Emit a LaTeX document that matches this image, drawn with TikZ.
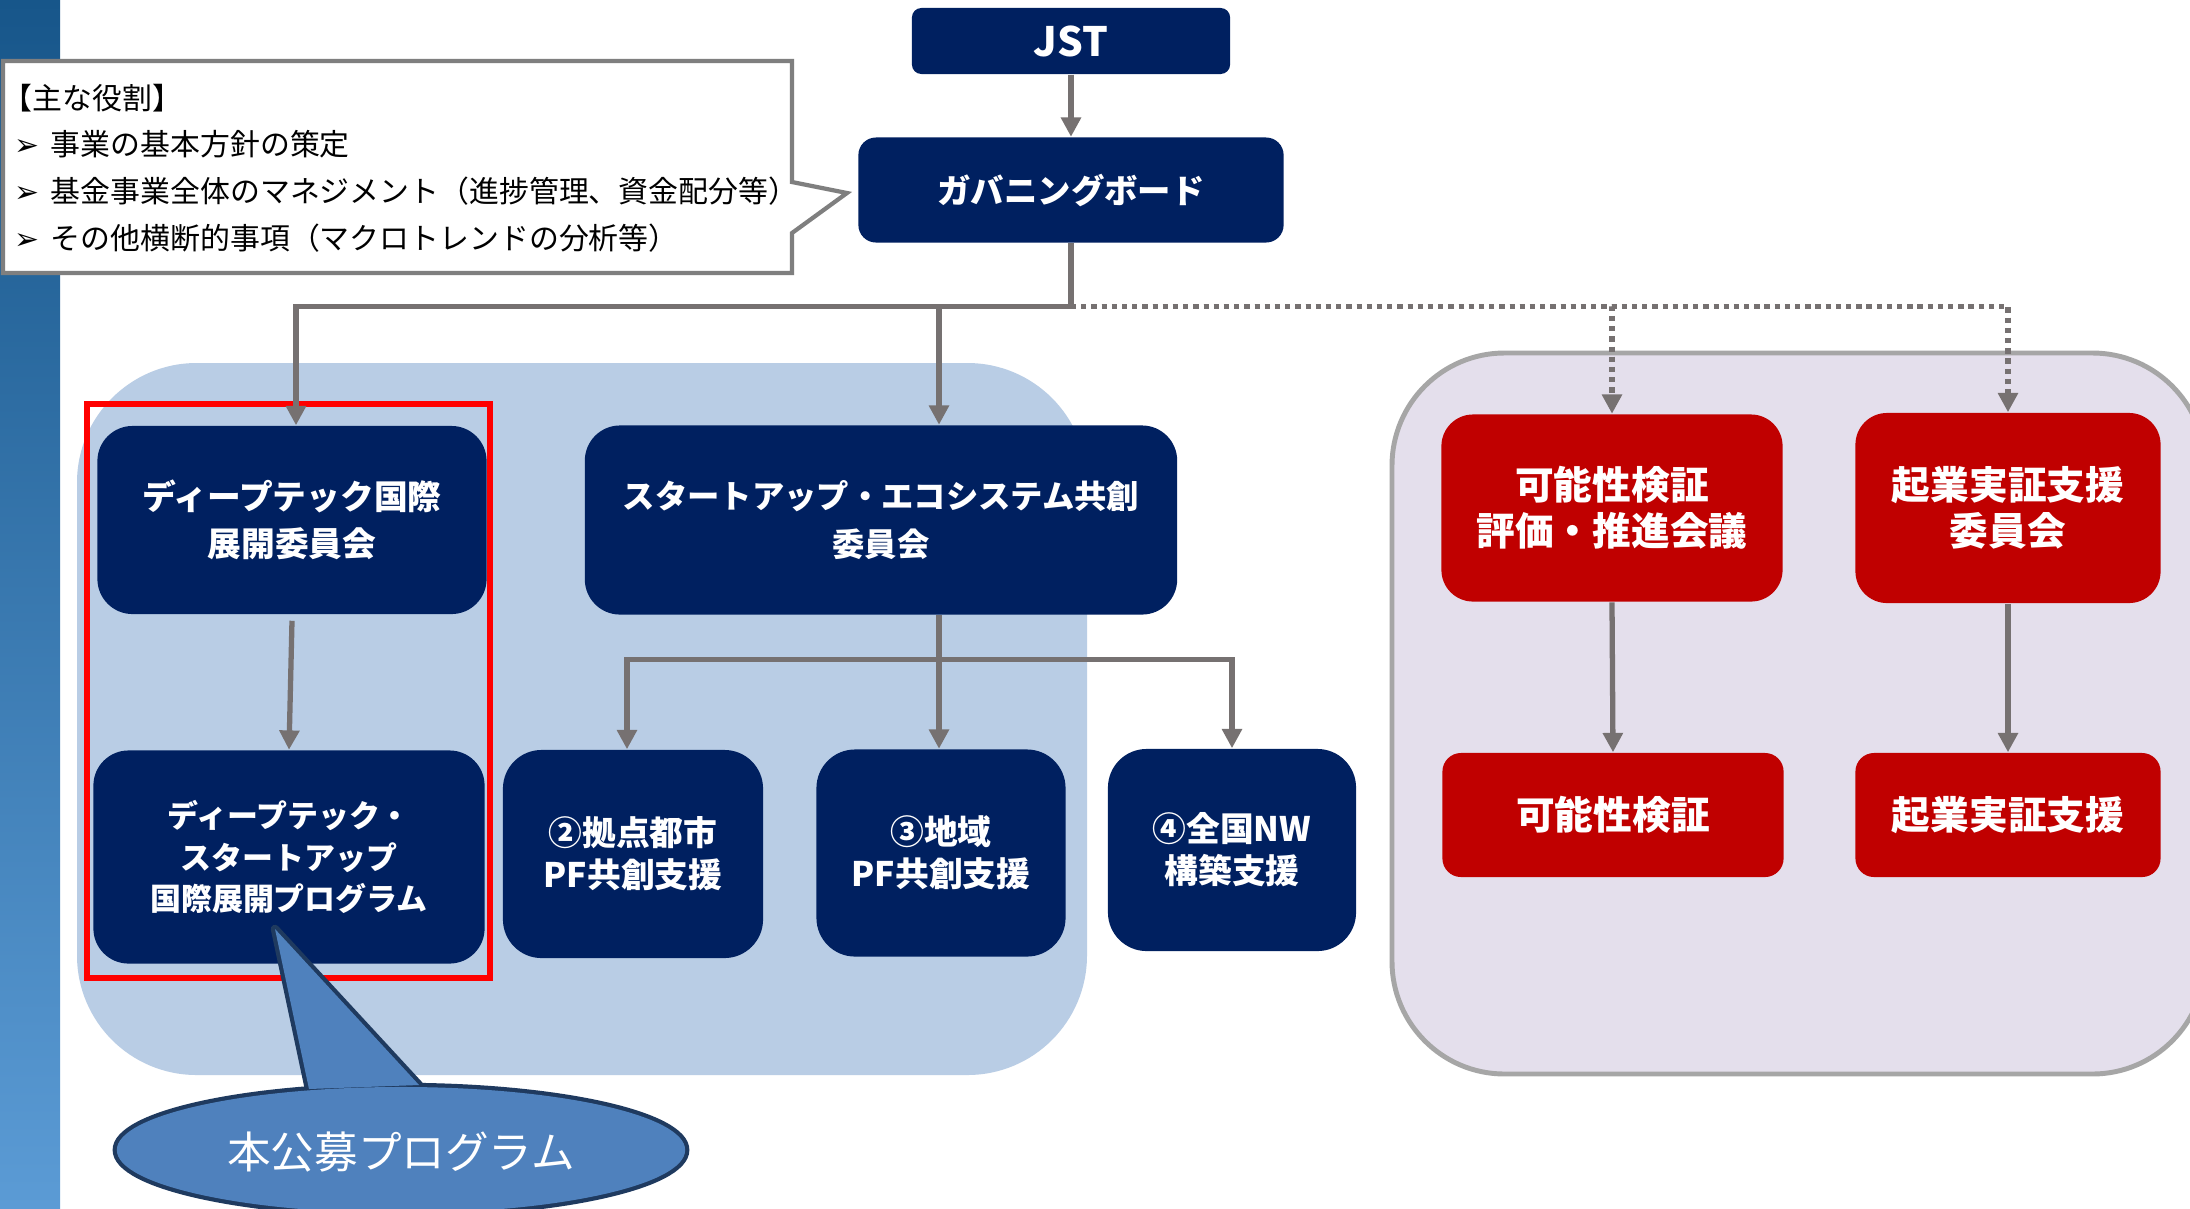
\documentclass[tikz,border=0pt]{standalone}
\usepackage{fontspec}
\setmainfont{Noto Sans CJK JP}
\newfontfamily\djv{DejaVu Sans}
\usetikzlibrary{shapes.geometric,arrows.meta,calc}

\definecolor{navy}{HTML}{002060}
\definecolor{rbox}{HTML}{C00000}
\definecolor{conn}{HTML}{767171}
\definecolor{lblue}{HTML}{B9CDE5}
\definecolor{lpurp}{HTML}{E4DFEC}
\definecolor{pbord}{HTML}{A6A6A6}
\definecolor{cbord}{HTML}{7F7F7F}
\definecolor{ellf}{HTML}{4F81BD}
\definecolor{elld}{HTML}{1F3A5F}
\definecolor{stripT}{HTML}{17568A}
\definecolor{stripB}{HTML}{5B9BD5}

\newcommand{\bul}{\makebox[10.3pt][l]{\djv\fontsize{8.5}{8.5}\selectfont ➢}}

\begin{document}
\begin{tikzpicture}[x=0.01cm,y=-0.01cm,
  navybox/.style={fill=navy, text=white, align=center, inner sep=0pt},
  redbox/.style={fill=rbox, text=white, align=center, inner sep=0pt},
  conline/.style={draw=conn, line width=1.5pt},
  arr/.style={conline, -{Triangle[length=5.5pt,width=5.5pt]}},
  dotline/.style={draw=conn, line width=1.5pt, dash pattern=on 1.5pt off 1.4pt},
  darr/.style={dotline, -{Triangle[length=5.5pt,width=5.5pt]}},
]
\clip (0,0) rectangle (2190,1208);
\fill[white] (0,0) rectangle (2190,1208);

% left strip
\shade[top color=stripT, bottom color=stripB] (0,0) rectangle (60,1208);

% group regions
\fill[lblue, rounded corners=34pt] (77,363) rectangle (1087,1075);
\filldraw[fill=lpurp, draw=pbord, line width=1.4pt, rounded corners=32pt] (1392,353) rectangle (2205,1074);

% callout for roles
\filldraw[fill=white, draw=cbord, line width=1.2pt, line join=miter]
  (3,61) -- (792,61) -- (792,182) -- (847,193) -- (792,233) -- (792,273) -- (3,273) -- cycle;
\node[anchor=west, align=left, inner sep=0pt, font=\fontsize{8.5}{13.3}\selectfont] (roles) at (14,168)
  {\hspace*{-0.4em}【主な役割】\\
   \bul 事業の基本方針の策定\\
   \bul 基金事業全体のマネジメント（進捗管理、資金配分等）\\
   \bul その他横断的事項（マクロトレンドの分析等）};

% top nodes
\node[navybox, rounded corners=2.7pt, minimum width=3.18cm, minimum height=0.66cm,
      font=\fontsize{11.5}{13}\selectfont\bfseries] (jst) at (1071,41) {JST};
\node[navybox, rounded corners=5pt, minimum width=4.25cm, minimum height=1.05cm,
      font=\fontsize{9.5}{12}\selectfont\bfseries] (gb) at (1071,190) {ガバニングボード};

% navy committees
\node[navybox, rounded corners=10pt, minimum width=3.89cm, minimum height=1.88cm,
      font=\fontsize{9.6}{13.5}\selectfont\bfseries] (dtc) at (292,520) {ディープテック国際\\展開委員会};
\node[navybox, rounded corners=10pt, minimum width=3.91cm, minimum height=2.13cm,
      font=\fontsize{8.8}{11.7}\selectfont\bfseries] (dtp) at (289,857) {ディープテック・\\スタートアップ\\国際展開プログラム};
\node[navybox, rounded corners=10pt, minimum width=5.92cm, minimum height=1.89cm,
      font=\fontsize{9.2}{13.5}\selectfont\bfseries] (suc) at (881,520) {スタートアップ・エコシステム共創\\委員会};
\node[navybox, rounded corners=11pt, minimum width=2.60cm, minimum height=2.08cm,
      font=\fontsize{9.6}{12}\selectfont\bfseries] (b2) at (633,854) {②拠点都市\\PF共創支援};
\node[navybox, rounded corners=11pt, minimum width=2.49cm, minimum height=2.07cm,
      font=\fontsize{9.6}{12}\selectfont\bfseries] (b3) at (941,853) {③地域\\PF共創支援};
\node[navybox, rounded corners=11pt, minimum width=2.48cm, minimum height=2.02cm,
      font=\fontsize{9.6}{12}\selectfont\bfseries] (b4) at (1232,850) {④全国NW\\構築支援};

% red nodes
\node[redbox, rounded corners=9pt, minimum width=3.41cm, minimum height=1.87cm,
      font=\fontsize{11}{13}\selectfont\bfseries] (rk1) at (1612,508) {可能性検証\\評価・推進会議};
\node[redbox, rounded corners=9pt, minimum width=3.05cm, minimum height=1.90cm,
      font=\fontsize{11}{13}\selectfont\bfseries] (rk2) at (2008,508) {起業実証支援\\委員会};
\node[redbox, rounded corners=5.3pt, minimum width=3.41cm, minimum height=1.24cm,
      font=\fontsize{11}{13}\selectfont\bfseries] (rk3) at (1613,815) {可能性検証};
\node[redbox, rounded corners=5.3pt, minimum width=3.05cm, minimum height=1.24cm,
      font=\fontsize{11}{13}\selectfont\bfseries] (rk4) at (2008,815) {起業実証支援};

% red frame
\draw[red, line width=1.6pt] (87,404) rectangle (490,978);

% connectors
\coordinate (j1) at ($(gb.south)+(0,63)$);
\coordinate (sx) at ($(suc.south)+(58,0)$);
\coordinate (j2) at ($(sx)+(0,44)$);
\draw[arr] (jst) -- (gb);
\draw[conline] (gb.south) -- (j1);
\draw[darr] (j1) -| (rk2.north);
\draw[darr] (j1) -| (rk1.north);
\draw[arr] (j1) -| ([xshift=0.04cm]dtc.north);
\draw[arr] (j1) -| (sx |- suc.north);
\draw[arr] ([yshift=-0.06cm]dtc.south) -- (dtp.north);
\draw[conline] (sx) -- (j2);
\draw[arr] (j2) -| ([xshift=-0.06cm]b2.north);
\draw[arr] (j2) -- (j2 |- b3.north);
\draw[arr] (j2) -| (b4.north);
\draw[arr] (rk1.south) -- (rk3.north);
\draw[arr] (rk2.south) -- (rk4.north);

% ellipse callout
\filldraw[draw=elld, fill=ellf, line width=2.4pt, line join=round] (275,929) -- (309,1089) -- (419,1085) -- cycle;
\filldraw[draw=elld, fill=ellf, line width=2.4pt] (401,1150) ellipse [x radius=2.84cm, y radius=0.63cm];
\fill[ellf] (275,929) -- (309,1089) -- (419,1085) -- cycle;
\fill[ellf] (401,1150) ellipse [x radius=2.84cm, y radius=0.63cm];
\node[text=white, inner sep=0pt, font=\fontsize{12.4}{14}\selectfont] (ell) at (401,1152) {本公募プログラム};
\end{tikzpicture}
\end{document}
